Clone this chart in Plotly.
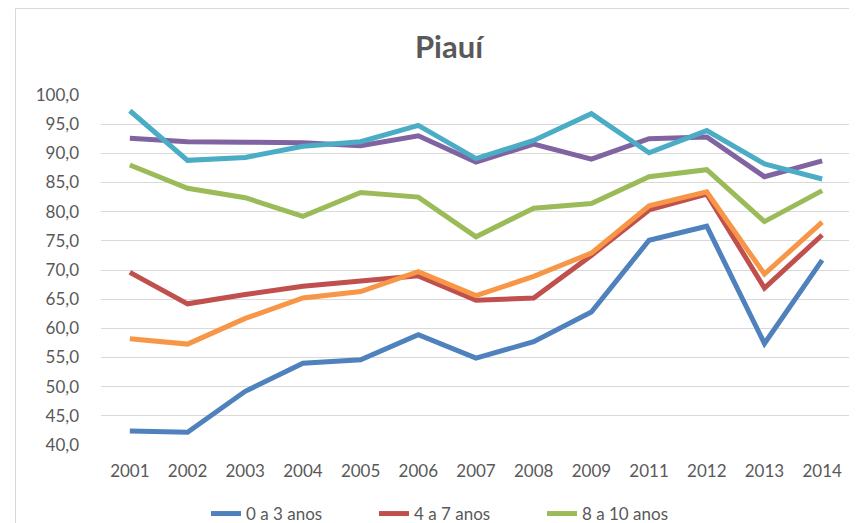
import plotly.graph_objects as go

years = ["2001", "2002", "2003", "2004", "2005", "2006", "2007", "2008", "2009", "2011", "2012", "2013", "2014"]

s_0_3 = [42.4, 42.2, 49.2, 54.0, 54.6, 58.9, 54.9, 57.7, 62.8, 75.1, 77.5, 57.4, 71.7]
s_4_7 = [69.6, 64.2, 65.8, 67.2, 68.1, 69.0, 64.8, 65.2, 72.5, 80.3, 83.0, 66.9, 76.0]
s_8_10 = [88.0, 84.0, 82.4, 79.2, 83.3, 82.5, 75.7, 80.6, 81.4, 86.0, 87.2, 78.3, 83.6]
s_11_14 = [92.6, 92.0, 91.9, 91.8, 91.3, 93.0, 88.5, 91.6, 89.0, 92.5, 92.8, 86.0, 88.7]
s_15_17 = [97.3, 88.8, 89.3, 91.2, 92.0, 94.8, 89.1, 92.2, 96.8, 90.1, 93.9, 88.2, 85.6]
s_18_24 = [58.2, 57.3, 61.7, 65.2, 66.3, 69.7, 65.6, 68.9, 72.9, 81.0, 83.4, 69.3, 78.2]

series_names = ["0 a 3 anos", "4 a 7 anos", "8 a 10 anos", "11 a 14 anos", "15 a 17 anos", "18 a 24 anos"]
series_values = [s_0_3, s_4_7, s_8_10, s_11_14, s_15_17, s_18_24]
colors = ["#4F81BD", "#C0504D", "#9BBB59", "#8064A2", "#4BACC6", "#F79646"]
legend_rows = ["legend", "legend", "legend", "legend2", "legend2", "legend2"]

y_ticks = [40, 45, 50, 55, 60, 65, 70, 75, 80, 85, 90, 95, 100]

fig = go.Figure()
for name, vals, col, lg in zip(series_names, series_values, colors, legend_rows):
    fig.add_trace(go.Scatter(x=years, y=vals, name=name, mode="lines", legend=lg,
                             line=dict(color=col, width=5)))

# page body has an 8px margin, so figure pixel = screen pixel - 8
W, H = 849, 515
L, R, T, B = 93, 6, 87, 78
pw = W - L - R
ph = H - T - B
FONT = "Lato, Calibri, sans-serif"
GREY = "#595959"

legend_common = dict(orientation="h", x=(198 - L) / pw, xanchor="left", yanchor="top",
                     entrywidth=123, entrywidthmode="pixels",
                     font=dict(size=17, color=GREY), traceorder="normal")

fig.update_layout(
    width=W, height=H,
    margin=dict(l=L, r=R, t=T, b=B, autoexpand=False),
    paper_bgcolor="white", plot_bgcolor="white",
    separators=",.",
    font=dict(family=FONT, size=17, color=GREY),
    title=dict(text="<b>Piauí</b>", x=441 / W, xanchor="center", y=1 - 39 / H, yanchor="middle",
               font=dict(size=31, color=GREY, family=FONT)),
    xaxis=dict(type="category", range=[-0.5, len(years) - 0.5], showgrid=False, showline=False,
               ticks="", ticklabelstandoff=14, tickfont=dict(size=17, color=GREY)),
    yaxis=dict(range=[40, 100], tickvals=y_ticks, tickformat=".1f", showgrid=True,
               gridcolor="#d9d9d9", gridwidth=1, zeroline=False, showline=False, ticks="",
               ticklabelstandoff=21, tickfont=dict(size=17, color=GREY)),
    legend=dict(y=-(488 - (H - B)) / ph, **legend_common),
    legend2=dict(y=-(512 - (H - B)) / ph, **legend_common),
    showlegend=True,
)

fig.add_shape(type="rect", xref="paper", yref="paper",
              x0=(7.5 - L) / pw, x1=1.2, y0=-0.6, y1=((H - B) - 0.5) / ph,
              line=dict(color="#d9d9d9", width=1), fillcolor="rgba(0,0,0,0)", layer="below")

fig.write_html("out.html")
